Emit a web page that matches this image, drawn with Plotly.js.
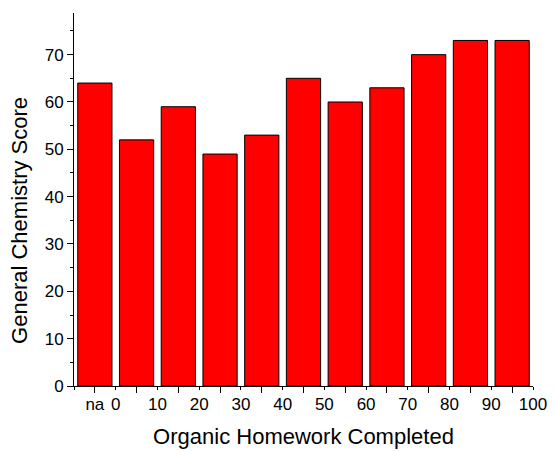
<!DOCTYPE html>
<html><head><meta charset="utf-8">
<script src="https://cdn.plot.ly/plotly-3.0.1.min.js"></script>
<style>html,body{margin:0;padding:0;background:#fff}#chart{width:556px;height:451px}</style>
</head><body><div id="chart"></div>
<script>
// Data
const binLabels = ['na','0-10','10-20','20-30','30-40','40-50','50-60','60-70','70-80','80-90','90-100'];
const binCenters = [-5,5,15,25,35,45,55,65,75,85,95];
const scores = [64,52,59,49,53,65,60,63,70,73,73];
const xTickVals = [-10,-5,0,10,20,30,40,50,60,70,80,90,100];
const xTickText = ['','na','0','10','20','30','40','50','60','70','80','90','100'];
const xMinorVals = [-5,5,15,25,35,45,55,65,75,85,95];
const xTitle = 'Organic Homework Completed';
const yTitle = 'General Chemistry Score';

const FONT = '"Liberation Sans", Arial, sans-serif';

const trace = {
  type: 'bar',
  x: binCenters,
  y: scores,
  hovertext: binLabels,
  hoverinfo: 'text+y',
  textposition: 'none',
  width: 8.2,
  marker: {color: '#FF0000', line: {color: '#000000', width: 1}}
};

const layout = {
  width: 556, height: 451,
  margin: {l: 74, r: 23, t: 13, b: 65, pad: 0},
  paper_bgcolor: '#ffffff', plot_bgcolor: '#ffffff',
  font: {family: FONT, color: '#000000', size: 17},
  showlegend: false,
  xaxis: {
    range: [-10, 100],
    tickmode: 'array', tickvals: xTickVals, ticktext: xTickText,
    ticks: 'outside', ticklen: 3, tickwidth: 1, tickcolor: '#000',
    minor: {tickmode: 'array', tickvals: xMinorVals, ticks: 'outside', ticklen: 6, tickwidth: 1, tickcolor: '#000', showgrid: false},
    showline: true, linecolor: '#000', linewidth: 1,
    showgrid: false, zeroline: false,
    tickfont: {family: FONT, size: 17, color: '#000'},
    title: {text: xTitle, font: {family: FONT, size: 22, color: '#000'}, standoff: 15}
  },
  yaxis: {
    range: [0, 78.8],
    tickmode: 'linear', tick0: 0, dtick: 10,
    ticks: 'outside', ticklen: 6, tickwidth: 1, tickcolor: '#000',
    minor: {dtick: 5, tick0: 0, ticks: 'outside', ticklen: 3, tickwidth: 1, tickcolor: '#000', showgrid: false},
    showline: true, linecolor: '#000', linewidth: 1,
    showgrid: false, zeroline: false,
    tickfont: {family: FONT, size: 17, color: '#000'}
  },
  annotations: [{
    text: yTitle, textangle: -90, showarrow: false,
    xref: 'paper', yref: 'paper', x: -0.12, y: 0.445,
    xanchor: 'center', yanchor: 'middle',
    font: {family: FONT, size: 22, color: '#000'}
  }]
};

Plotly.newPlot('chart', [trace], layout, {displayModeBar: false, staticPlot: true});
</script>
</body></html>
